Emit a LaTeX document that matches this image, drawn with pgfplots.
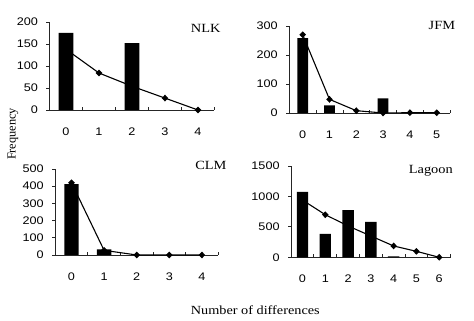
\documentclass[border=0pt]{standalone}
\usepackage{fontspec}
\usepackage{pgfplots}
\pgfplotsset{compat=1.18}
\setmainfont{Liberation Serif}
\newfontfamily\serifw[FakeStretch=1.15]{Liberation Serif}
\newfontfamily\sansw[FakeStretch=1.15]{Liberation Sans}
\pgfplotsset{
  panel/.style={
    scale only axis,
    clip=false,
    axis x line*=bottom,
    axis y line*=left,
    axis line style={black!85, line width=0.9pt},
    ymin=0,
    xmin=-0.5,
    /pgf/number format/assume math mode=true,
    tick label style={font=\sansw\fontsize{11}{11}\selectfont},
    xticklabels={},
    tick style={black!85, line width=0.8pt},
    major tick length=3pt,
    tick align=inside,
    ytick align=outside,
    yticklabel style={xshift=-5pt},
    extra x tick style={major tick length=0pt, xticklabel style={yshift=-14pt}},
    scaled y ticks=false,
    yticklabel style={/pgf/number format/.cd, fixed, 1000 sep={}},
  },
  bars/.style={ybar, fill=black, draw=none, forget plot},
  fitline/.style={black, line width=1.1pt, mark=diamond*, mark size=2.6pt, mark options={xscale=1.3, fill=black}},
}
\begin{document}
\begin{tikzpicture}
\path[use as bounding box] (0pt,0pt) rectangle (474pt,321pt);
% NLK
\begin{axis}[panel, at={(66pt,211pt)}, anchor=origin, width=165pt, height=88pt,
  xmax=4.5, ymax=200, ytick={0,50,100,150,200},
  xtick={0.5,1.5,2.5,3.5,4.5}, extra x ticks={0,1,2,3,4}]
\addplot[fitline] coordinates {(0,138) (1,84) (2,54) (3,27) (4,0)};
\addplot[bars, bar width=0.45] coordinates {(0,175) (2,152)};
\end{axis}
% JFM
\begin{axis}[panel, at={(302.7pt,208pt)}, anchor=origin, width=160.8pt, height=87pt,
  xmax=5.5, ymax=300, ytick={0,100,200,300},
  xtick={0.5,1.5,2.5,3.5,4.5,5.5}, extra x ticks={0,1,2,3,4,5}]
\addplot[bars, bar width=0.4] coordinates {(0,258) (1,26) (3,50)};
\addplot[fitline] coordinates {(0,270) (1,47) (2,8) (3,0) (4,1) (5,1)};
\end{axis}
% CLM
\begin{axis}[panel, at={(71.5pt,66pt)}, anchor=origin, width=163pt, height=86pt,
  xmax=4.5, ymax=500, ytick={0,100,200,300,400,500},
  xtick={0.5,1.5,2.5,3.5,4.5}, extra x ticks={0,1,2,3,4}]
\addplot[bars, bar width=0.44] coordinates {(0,412) (1,32)};
\addplot[fitline] coordinates {(0,420) (1,27) (2,0) (3,0) (4,0)};
\end{axis}
% Lagoon
\begin{axis}[panel, at={(302.5pt,63.7pt)}, anchor=origin, width=159.5pt, height=91.3pt,
  xmax=6.5, ymax=1500, ytick={0,500,1000,1500},
  xtick={0.5,1.5,2.5,3.5,4.5,5.5,6.5}, extra x ticks={0,1,2,3,4,5,6}]
\addplot[fitline] coordinates {(0,940) (1,700) (2,515) (3,350) (4,186) (5,98) (6,0)};
\addplot[bars, bar width=0.5] coordinates {(0,1075) (1,385) (2,775) (3,580) (4,15)};
\end{axis}
% titles
\node[anchor=base east, inner sep=0, font=\serifw\fontsize{12.5}{12.5}\selectfont] at (220.7pt,288.7pt) {NLK};
\node[anchor=base east, inner sep=0, font=\serifw\fontsize{12.5}{12.5}\selectfont] at (455.3pt,291pt) {JFM};
\node[anchor=base east, inner sep=0, font=\serifw\fontsize{12.5}{12.5}\selectfont] at (226.7pt,151.7pt) {CLM};
\node[anchor=base east, inner sep=0, font=\serifw\fontsize{12.5}{12.5}\selectfont] at (453pt,147.7pt) {Lagoon};
\node[rotate=90, inner sep=0, font=\fontsize{12.3}{12.3}\selectfont] at (13pt,187pt) {Frequency};
\node[anchor=base, inner sep=0, font=\serifw\fontsize{12.4}{12.4}\selectfont] at (255.3pt,6.7pt) {Number of differences};
\end{tikzpicture}
\end{document}
